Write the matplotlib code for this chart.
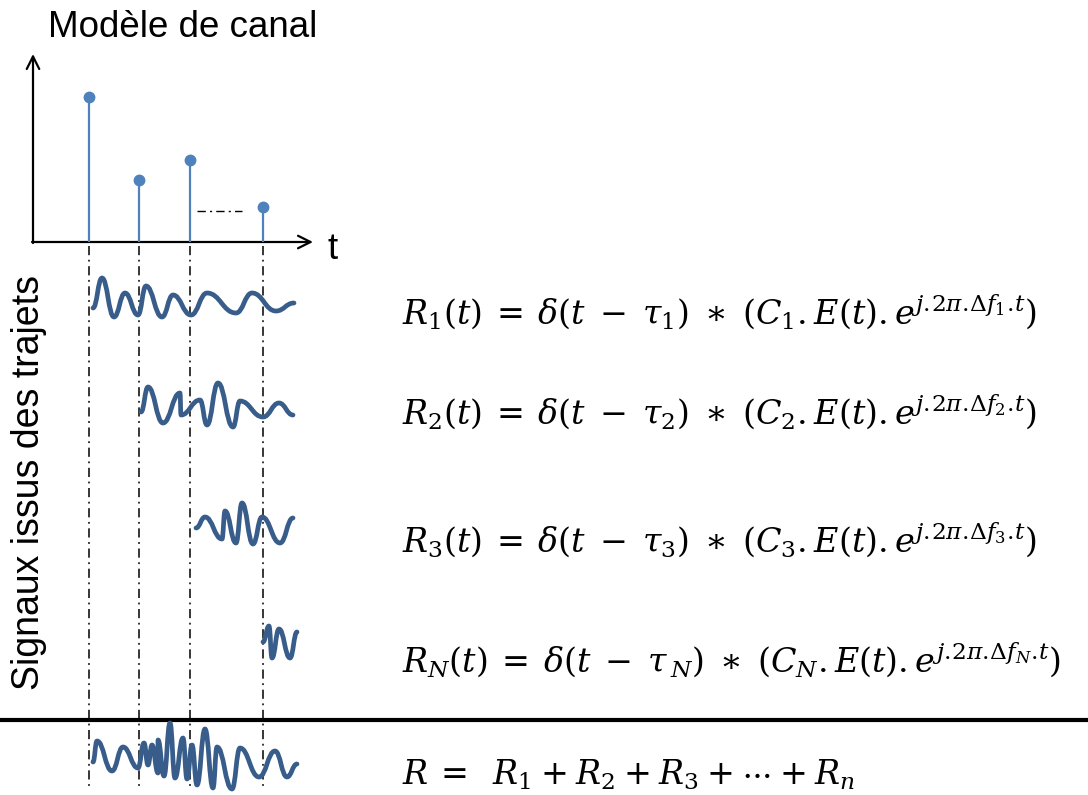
import matplotlib
matplotlib.use("Agg")
import matplotlib.pyplot as plt
from matplotlib.path import Path
from matplotlib.patches import PathPatch

plt.rcParams['mathtext.fontset'] = 'dejavuserif'

# ---------------- data (pixel-like diagram coordinates) ----------------
title = "Modèle de canal"
side_label = "Signaux issus des trajets"
axis_label = "t"

# channel impulse response: delays (x) and tap heights (y top)
tap_delays = [89, 139, 190, 263]
tap_tops = [97, 180, 160, 207]
axis_y = 242

# waveform extrema (x, y) for each path signal
wave_1 = [(93, 308), (102, 278), (114, 317), (125, 293), (138, 315), (146, 286),
          (162, 317), (173, 295), (191, 315), (207, 293), (236, 313), (252, 293),
          (276, 311), (294, 303)]
wave_2 = [(141, 412), (148, 387), (163, 423), (180, 393), (181, 415), (200, 400),
          (207, 425), (218, 383), (233, 427), (240, 401), (263, 417), (279, 403),
          (293, 415)]
wave_3 = [(196, 528), (205, 517), (222, 539), (225, 511), (236, 543), (242, 503),
          (253, 544), (262, 517), (280, 543), (293, 518)]
wave_n = [(263, 642), (269, 626), (272, 658), (279, 629), (290, 658), (297, 632)]
wave_sum = [(93, 762), (97, 741), (112, 771), (123, 747), (138, 768), (144, 743),
            (148, 765), (152, 745), (158, 773), (158, 740), (164, 776), (170, 723),
            (175, 778), (183, 738), (187, 779), (192, 745), (197, 785), (205, 729),
            (213, 788), (217, 747), (232, 789), (240, 748), (259, 777), (275, 751),
            (287, 777), (297, 764)]
waves = [wave_1, wave_2, wave_3, wave_n, wave_sum]

equations = [
    r'$R_1(t)\:=\:\delta(t\;-\;\tau_1)\;\ast\;(C_1.E(t).e^{j.\!2\pi.\!\Delta f_1.\!t})$',
    r'$R_2(t)\:=\:\delta(t\;-\;\tau_2)\;\ast\;(C_2.E(t).e^{j.\!2\pi.\!\Delta f_2.\!t})$',
    r'$R_3(t)\:=\:\delta(t\;-\;\tau_3)\;\ast\;(C_3.E(t).e^{j.\!2\pi.\!\Delta f_3.\!t})$',
    r'$R_N(t)\:=\:\delta(t\;-\;\tau_{\,N})\;\ast\;(C_N.E(t).e^{j.\!2\pi.\!\Delta f_N.\!t})$',
    r'$R\:=\;\;R_1\:+\:R_2\:+\:R_3\:+\:\cdots\:+\:R_n$',
]
equation_y = [312, 412, 540, 660, 775]

# ---------------- drawing ----------------
W, H = 1088, 795
fig = plt.figure(figsize=(W / 100, H / 100), dpi=100)
ax = fig.add_axes([0, 0, 1, 1])
ax.set_xlim(0, W)
ax.set_ylim(H, 0)
ax.axis('off')

stem_color = '#4F81BD'
wave_color = '#385D8A'
font = 'Liberation Sans'

# axes of the channel model
arrow_kw = dict(arrowstyle='->,head_length=0.9,head_width=0.45', color='black', lw=1.6,
                shrinkA=0, shrinkB=0)
ax.annotate('', xy=(33, 54), xytext=(33, axis_y + 1), arrowprops=arrow_kw)
ax.annotate('', xy=(313, axis_y), xytext=(32, axis_y), arrowprops=arrow_kw)
ax.text(333, 259, axis_label, fontsize=26.5, family=font, ha='center', va='baseline')
ax.text(183, 37, title, fontsize=26.5, family=font, ha='center', va='baseline')
ax.text(29, 483, side_label, fontsize=27, family=font, ha='center', va='center',
        rotation=90)

# stems
for x, top in zip(tap_delays, tap_tops):
    ax.plot([x, x], [axis_y, top], color=stem_color, lw=1.6, solid_capstyle='butt', zorder=3)
ax.plot(tap_delays, tap_tops, 'o', color=stem_color, ms=7.5, zorder=4)
ax.plot([197, 242], [211, 211], color='black', lw=1.0, dashes=(6, 3, 1.5, 3))

# vertical dash-dot delay lines
for x in tap_delays:
    ax.plot([x, x], [246, 786], color='black', lw=1.1, dashes=(6, 3, 1.2, 3), zorder=1)

# separator line
ax.plot([0, W], [720, 720], color='black', lw=3.0, solid_capstyle='butt')

# waveforms as cubic Bezier curves through the extrema
def wave_path(pts):
    verts = [pts[0]]
    codes = [Path.MOVETO]
    for (x0, y0), (x1, y1) in zip(pts[:-1], pts[1:]):
        dx = x1 - x0
        k = 0.45
        verts += [(x0 + k * dx, y0), (x1 - k * dx, y1), (x1, y1)]
        codes += [Path.CURVE4] * 3
    return Path(verts, codes)

for pts in waves:
    ax.add_patch(PathPatch(wave_path(pts), fill=False, edgecolor=wave_color, lw=3.4,
                           capstyle='round', joinstyle='round', zorder=5))

# equations
for eq, y in zip(equations, equation_y):
    ax.text(402, y, eq, fontsize=24, ha='left', va='center')

fig.savefig('out.png', dpi=100)
